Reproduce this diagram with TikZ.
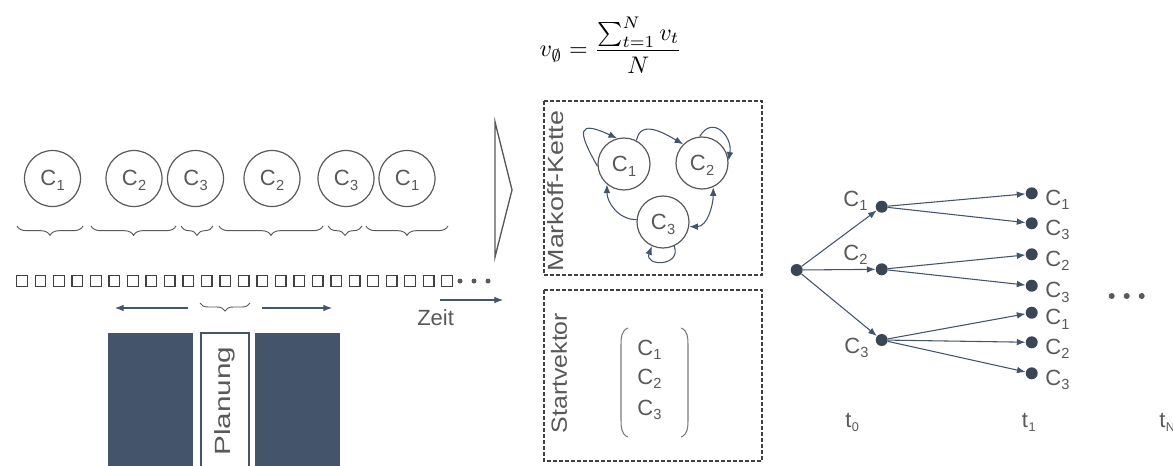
\documentclass[tikz,border=0pt]{standalone}
\usepackage[no-math]{fontspec}
\setmainfont{Liberation Sans}
\usetikzlibrary{arrows.meta,decorations.pathreplacing}
\definecolor{slate}{HTML}{44546A}
\definecolor{ink}{HTML}{595959}
\definecolor{dotc}{HTML}{3A4556}
\definecolor{boxline}{HTML}{404040}
% state label with a lowered index
\newcommand\Cs[1]{C\kern0.2pt\raisebox{-3.5pt}{\fontsize{11}{11}\selectfont #1}}
\newcommand\ts[1]{t\kern0.4pt\raisebox{-3pt}{\fontsize{9.5}{9.5}\selectfont #1}}
\begin{document}
\begin{tikzpicture}[x=0.75pt,y=0.75pt,
  font=\fontsize{16.5}{19}\selectfont, text=ink,
  state/.style={circle,draw=ink,line width=0.9pt,minimum size=42pt,inner sep=0pt,text height=12pt,text depth=1pt},
  mstate/.style={circle,draw=ink,line width=0.9pt,minimum size=39pt,inner sep=0pt,text height=12pt,text depth=1pt},
  dot/.style={circle,fill=dotc,minimum size=9pt,inner sep=0pt},
  lbl/.style={anchor=base west,inner sep=0pt},
  arr/.style={draw=slate,line width=0.8pt,-{Latex[length=6.5pt,width=5pt]}},
  biarr/.style={draw=slate,line width=0.8pt,{Latex[length=6.5pt,width=5pt]}-{Latex[length=6.5pt,width=5pt]}},
  brc/.style={draw=ink,line width=0.7pt,decorate,decoration={brace,mirror,amplitude=7pt}},
  frame/.style={draw=boxline,line width=0.8pt,dash pattern=on 3pt off 1.5pt},
  sq/.style={draw=boxline,line width=1pt},
  paren/.style={draw=ink!80,line width=0.8pt},
  vlabel/.style={rotate=90,inner sep=0pt}]

\useasboundingbox (0,0) rectangle (1173,-465);
\clip (0,0) rectangle (1173,-465);
\fill[white] (0,0) rectangle (1173,-465);

% average formula
\node[text=black,font=\fontsize{10}{12}\selectfont] (avg) at (611,-45)
  {\scalebox{1.8}[1.8]{$v_{\emptyset} = \displaystyle\frac{\sum_{t=1}^{N} v_t}{N}$}};

% observed sequence of states
\node[state] (s1) at (52.5,-178.5) {\Cs{1}};
\node[state] (s2) at (134,-178.5) {\Cs{2}};
\node[state] (s3) at (195.5,-178.5) {\Cs{3}};
\node[state] (s4) at (272,-178.5) {\Cs{2}};
\node[state] (s5) at (346,-178.5) {\Cs{3}};
\node[state] (s6) at (407,-178.5) {\Cs{1}};

% durations of the states
\draw[brc] (17,-226) -- (83,-226);
\draw[brc] (91,-226) -- (176,-226);
\draw[brc] (181,-226) -- (213,-226);
\draw[brc] (219,-226) -- (323,-226);
\draw[brc] (328,-226) -- (362,-226);
\draw[brc] (366,-226) -- (448,-226);

% time slots
\foreach \i in {0,...,23}
  \draw[sq] ({16.7+18.48*\i},-275.7) rectangle ++(10.6,-10.6);
\foreach \x in {460,474,488}
  \fill[ink] (\x,-281) circle (2.5);

% time axis
\coordinate (z0) at (440,-300);
\coordinate (z1) at (503,-300);
\draw[arr] (z0) -- (z1);
\node[lbl] (zeit) at (417,-325) {Zeit};

% planning window
\coordinate (la) at (188,-308);
\coordinate (lb) at (115,-308);
\coordinate (ra) at (262,-308);
\coordinate (rb) at (332,-308);
\draw[arr] (la) -- (lb);
\draw[arr] (ra) -- (rb);
\draw[brc,decoration={amplitude=6pt}] (200,-303) -- (250,-303);
\fill[slate] (108,-333) rectangle (193,-470);
\fill[slate] (255,-333) rectangle (340,-470);
\draw[slate,line width=1pt,fill=white] (201,-333) rectangle (249,-470);
\node[vlabel] (plan) at (225,-401) {\scalebox{1.35}[1]{Planung}};

% transition arrow
\draw[ink,line width=1pt,line join=miter] (495,-122) -- (512,-190) -- (495,-257) -- cycle;

% Markov chain
\draw[frame] (544,-101) rectangle (762,-275);
\node[vlabel] (mk) at (556,-191) {\scalebox{1.22}[1]{Markoff-Kette}};
\node[mstate] (m1) at (624,-164) {\Cs{1}};
\node[mstate] (m2) at (702,-163) {\Cs{2}};
\node[mstate] (m3) at (663,-222) {\Cs{3}};
\draw[arr] (m1.185) to[out=120,in=155,looseness=3.2] (m1.105);
\draw[arr] (m1.62) to[out=80,in=150,looseness=1.2] (m2.135);
\draw[arr] (m2.95) to[out=60,in=80,looseness=1.7] (m2.5);
\draw[arr] (m3.175) to[out=180,in=-90] (m1.230);
\draw[biarr] (m3.350) to[out=0,in=-90] (m2.295);
\draw[arr] (m3.295) to[out=-70,in=-110,looseness=2.5] (m3.245);

% start vector
\draw[frame] (544,-290) rectangle (762,-461);
\node[vlabel] (sv) at (559,-373) {\scalebox{1.13}[1]{Startvektor}};
\draw[paren] (628,-328) to[out=200,in=90] (621,-345) -- (621,-420) to[out=-90,in=160] (628,-437);
\draw[paren] (681,-328) to[out=-20,in=90] (688,-345) -- (688,-420) to[out=-90,in=20] (681,-437);
\node[lbl] (v1) at (637,-355) {\Cs{1}};
\node[lbl] (v2) at (637,-384) {\Cs{2}};
\node[lbl] (v3) at (637,-415) {\Cs{3}};

% scenario tree
\node[dot] (r0) at (796.7,-270) {};
\node[dot] (a1) at (881.7,-206.7) {};
\node[dot] (a2) at (881.7,-269.3) {};
\node[dot] (a3) at (881.7,-340) {};
\node[dot] (b1) at (1031.7,-193.3) {};
\node[dot] (b2) at (1031.7,-223.3) {};
\node[dot] (b3) at (1031.7,-254.3) {};
\node[dot] (b4) at (1031.7,-285.7) {};
\node[dot] (b5) at (1031.7,-312.7) {};
\node[dot] (b6) at (1031.7,-342.3) {};
\node[dot] (b7) at (1031.7,-373.3) {};
\foreach \t in {a1,a2,a3} \draw[arr] (r0) -- (\t);
\draw[arr] (a1) -- (b1);
\draw[arr] (a1) -- (b2);
\draw[arr] (a2) -- (b3);
\draw[arr] (a2) -- (b4);
\draw[arr] (a3) -- (b5);
\draw[arr] (a3) -- (b6);
\draw[arr] (a3) -- (b7);

\node[lbl] (la1) at (843,-206) {\Cs{1}};
\node[lbl] (la2) at (843,-260) {\Cs{2}};
\node[lbl] (la3) at (844,-353) {\Cs{3}};
\node[lbl] (lb1) at (1045,-205.3) {\Cs{1}};
\node[lbl] (lb2) at (1045,-235.3) {\Cs{3}};
\node[lbl] (lb3) at (1045,-266.3) {\Cs{2}};
\node[lbl] (lb4) at (1045,-297.7) {\Cs{3}};
\node[lbl] (lb5) at (1045,-324.7) {\Cs{1}};
\node[lbl] (lb6) at (1045,-354.3) {\Cs{2}};
\node[lbl] (lb7) at (1045,-385.3) {\Cs{3}};
\foreach \x in {1111.7,1126.7,1141.7}
  \fill[ink] (\x,-296) circle (3);

\node[lbl] (t0) at (845,-427) {\ts{0}};
\node[lbl] (t1) at (1021.7,-427) {\ts{1}};
\node[lbl] (tN) at (1159,-427) {\ts{N}};
\end{tikzpicture}
\end{document}
